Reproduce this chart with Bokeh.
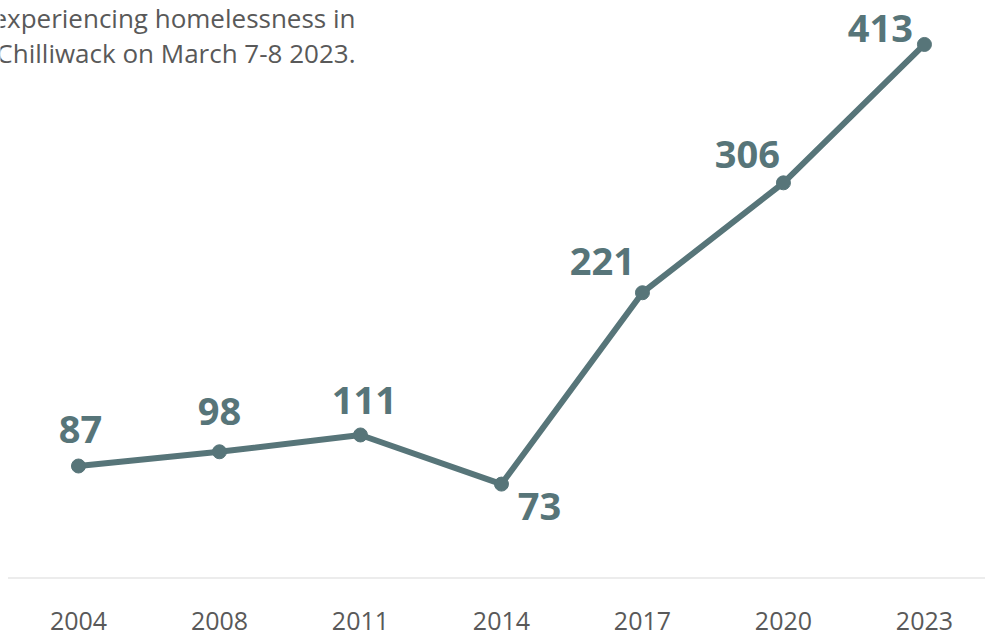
from bokeh.plotting import figure
from bokeh.models import ColumnDataSource, Range1d, FixedTicker, Label
from bokeh.core.properties import value
from bokeh.embed import file_html
from bokeh.resources import INLINE

# Point-in-time homeless counts, Chilliwack
years = ["2004", "2008", "2011", "2014", "2017", "2020", "2023"]
counts = [87, 98, 111, 73, 221, 306, 413]

# label placement around each point (pixels; negative dy = above)
label_dx = [2, 0, 4, 38, -40, -36, -44]
label_dy = [-37, -40, -34, 22, -31, -28, -16]

LINE = "#577579"
GREY_TEXT = "#595959"

# frame geometry
W, H_FRAME = 985, 578
X_START, X_END = -0.553, 6.433
Y_END = 447
px_x = W / (X_END - X_START)
px_y = H_FRAME / Y_END

idx = list(range(len(years)))
src = ColumnDataSource(dict(x=idx, y=counts, txt=[str(c) for c in counts],
                            dx=label_dx, dy=label_dy))

p = figure(width=W, height=637, output_backend="svg", toolbar_location=None,
           x_range=Range1d(X_START, X_END), y_range=Range1d(0, Y_END))
p.min_border = 0
p.min_border_bottom = 59
p.outline_line_color = None
p.background_fill_color = "white"
p.border_fill_color = "white"
p.grid.visible = False
p.yaxis.visible = False

ax = p.xaxis[0]
ax.ticker = FixedTicker(ticks=idx)
ax.major_label_overrides = {i: y for i, y in zip(idx, years)}
ax.axis_line_color = None
ax.major_tick_line_color = None
ax.minor_tick_line_color = None
ax.major_label_standoff = 27
ax.major_label_text_font = "Open Sans"
ax.major_label_text_font_size = "25px"
ax.major_label_text_color = GREY_TEXT

# baseline along zero
p.segment(x0=[-0.5], y0=[0], x1=[6.5], y1=[0], line_color="#d9d9d9", line_width=2)

p.line("x", "y", source=src, line_color=LINE, line_width=6)
p.scatter("x", "y", source=src, size=14, fill_color=LINE, line_color=LINE)
p.text("x", "y", text="txt", source=src, x_offset="dx", y_offset="dy",
       text_align="center", text_baseline="middle",
       text_font=value("Open Sans"), text_font_style="bold",
       text_font_size="38px", text_color=LINE)

# caption fragment in the upper-left corner
caption_x = X_START + 355 / px_x
for line_txt, base_px in [("experiencing homelessness in", 17), ("Chilliwack on March 7-8 2023.", 52)]:
    p.add_layout(Label(x=caption_x, y=(H_FRAME - base_px) / px_y,
                       text=line_txt, text_align="right", text_baseline="alphabetic",
                       text_font="Open Sans", text_font_size="26px",
                       text_color=GREY_TEXT))

open("out.html", "w").write(file_html(p, INLINE))
